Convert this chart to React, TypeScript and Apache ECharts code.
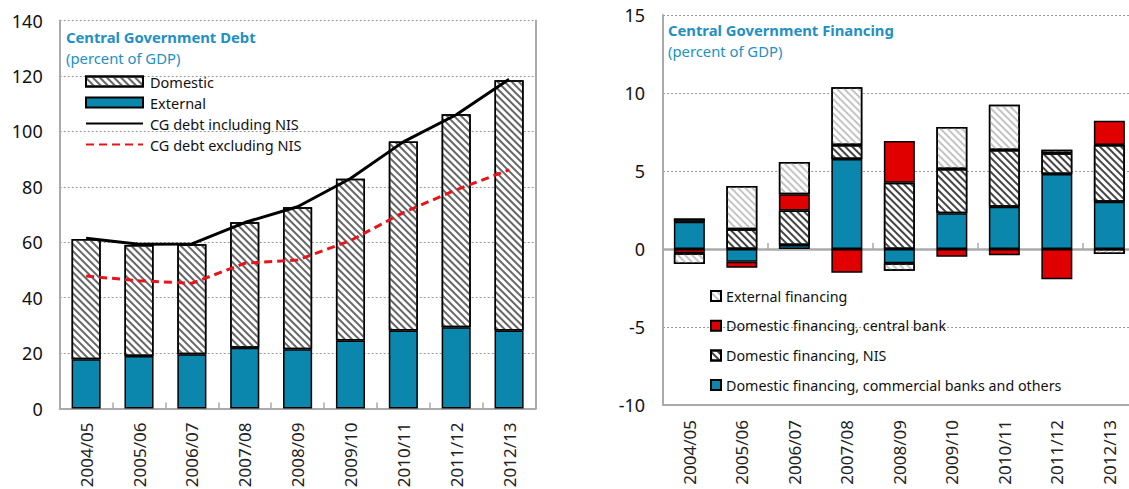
import React, { useEffect, useRef } from "react";
import * as echarts from "echarts";

const categories = ["2004/05", "2005/06", "2006/07", "2007/08", "2008/09", "2009/10", "2010/11", "2011/12", "2012/13"];

// Left chart: Central Government Debt (percent of GDP)
const externalDebt = [17.8, 18.9, 19.6, 21.9, 21.4, 24.5, 28.1, 29.3, 28.1];
const domesticDebt = [43.4, 40.1, 39.7, 45.3, 51.2, 58.4, 68.2, 76.9, 90.3];
const debtInclNIS = [61.4, 59.3, 59.4, 67.1, 72.8, 83.0, 96.2, 106.0, 118.8];
const debtExclNIS = [47.8, 46.1, 45.2, 52.4, 53.6, 60.6, 70.7, 78.9, 86.1];

// Right chart: Central Government Financing (percent of GDP)
const finCommercial = [1.75, -0.81, 0.26, 5.77, -0.92, 2.29, 2.71, 4.81, 3.03];
const finNIS = [0.2, 1.26, 2.2, 0.9, 4.25, 2.84, 3.64, 1.32, 3.64];
const finCentralBank = [-0.28, -0.39, 1.05, -1.52, 2.67, -0.49, -0.4, -1.94, 1.55];
const finExternal = [-0.68, 2.78, 2.07, 3.7, -0.47, 2.69, 2.9, 0.24, -0.32];

const debtAxis = { min: 0, max: 140, interval: 20 };
const finAxis = { min: -10, max: 15, interval: 5 };

const FONT = "'Noto Sans', 'Open Sans', sans-serif";
const BLUE = "#0b87ad";
const RED = "#e00000";
const TITLE = "#2290c4";
const GRAY = "#aaaaaa";

const hatch = (color: string, dash: number[]) => ({
  symbol: "rect",
  symbolSize: 1,
  dashArrayX: [1, 0],
  dashArrayY: dash,
  rotation: Math.PI / 4,
  color,
});

export default function App() {
  const ref = useRef<HTMLDivElement>(null);
  useEffect(() => {
    if (!ref.current) return;
    const chart = echarts.init(ref.current, null, { renderer: "svg" });
    const barBorder = { borderColor: "#000", borderWidth: 1.5 };
    const domesticHatch = hatch("#666666", [1.1, 2.5]);
    const extHatch = hatch("#c4c4c4", [1.3, 2.4]);
    const nisHatch = hatch("#444444", [1.4, 2.3]);
    const yLabel = { fontSize: 18, color: "#111", fontFamily: FONT };
    const xLabel = { fontSize: 17, color: "#222", fontFamily: FONT, rotate: 90, interval: 0 };
    const split = { show: true, lineStyle: { color: "#999", type: [2, 2], width: 1.2 } };
    const titleBold = { fontSize: 14.8, fontWeight: "bold", color: TITLE, fontFamily: FONT, lineHeight: 16 };
    const titleSub = { fontSize: 14.8, fontWeight: "normal", color: TITLE, fontFamily: FONT, lineHeight: 16 };

    chart.setOption({
      animation: false,
      textStyle: { fontFamily: FONT },
      title: [
        { text: "Central Government Debt", left: 66, top: 29, textStyle: titleBold },
        { text: "(percent of GDP)", left: 66, top: 50, textStyle: titleSub },
        { text: "Central Government Financing", left: 668, top: 22, textStyle: titleBold },
        { text: "(percent of GDP)", left: 668, top: 43, textStyle: titleSub },
      ].map((t) => ({ ...t, padding: 0 })),
      legend: [
        {
          orient: "vertical",
          left: 85,
          top: 74,
          itemWidth: 57,
          itemHeight: 10,
          itemGap: 6,
          padding: 0,
          textStyle: { fontSize: 14.5, color: "#111", fontFamily: FONT, lineHeight: 14, padding: [0, 0, 0, 2] },
          data: [
            { name: "Domestic", icon: "rect" },
            { name: "External", icon: "rect" },
            { name: "CG debt including NIS", itemStyle: { opacity: 0 } },
            { name: "CG debt excluding NIS", itemStyle: { opacity: 0 } },
          ],
        },
        {
          orient: "vertical",
          left: 710,
          top: 289,
          itemWidth: 10,
          itemHeight: 10,
          itemGap: 15.7,
          padding: 0,
          textStyle: { fontSize: 14.3, color: "#111", fontFamily: FONT, lineHeight: 14 },
          data: [
            { name: "External financing", icon: "rect" },
            { name: "Domestic financing, central bank", icon: "rect" },
            { name: "Domestic financing, NIS", icon: "rect" },
            { name: "Domestic financing, commercial banks and others", icon: "rect" },
          ],
        },
      ],
      grid: [
        { left: 59.7, top: 20.5, width: 475.8, height: 388, outerBoundsMode: "none" },
        { left: 663.1, top: 15, width: 472.5, height: 390, outerBoundsMode: "none" },
      ],
      xAxis: [
        {
          type: "category",
          gridIndex: 0,
          data: categories,
          axisLine: { show: true, lineStyle: { color: GRAY, width: 2 } },
          axisTick: { show: true, inside: true, length: 6, lineStyle: { color: GRAY, width: 1.5 } },
          axisLabel: { ...xLabel, margin: 14 },
        },
        {
          type: "category",
          gridIndex: 1,
          data: categories,
          axisLine: { show: true, onZero: false, lineStyle: { color: GRAY, width: 2 } },
          axisTick: { show: false },
          axisLabel: { ...xLabel, margin: 15 },
        },
        {
          type: "category",
          gridIndex: 1,
          data: categories,
          position: "bottom",
          axisLine: { show: true, onZero: true, lineStyle: { color: GRAY, width: 2.5 } },
          axisTick: { show: true, inside: true, length: 6, lineStyle: { color: GRAY, width: 1.5 } },
          axisLabel: { show: false },
        },
      ],
      yAxis: [
        {
          type: "value",
          gridIndex: 0,
          ...debtAxis,
          axisLine: { show: true, lineStyle: { color: GRAY, width: 2 } },
          axisTick: { show: false },
          axisLabel: { ...yLabel, margin: 17 },
          splitLine: split,
        },
        {
          type: "value",
          gridIndex: 0,
          position: "right",
          axisLine: { show: true, lineStyle: { color: GRAY, width: 2 } },
          axisTick: { show: false },
          axisLabel: { show: false },
          splitLine: { show: false },
        },
        {
          type: "value",
          gridIndex: 1,
          ...finAxis,
          axisLine: { show: true, lineStyle: { color: GRAY, width: 2 } },
          axisTick: { show: false },
          axisLabel: { ...yLabel, margin: 18 },
          splitLine: split,
        },
      ],
      series: [
        {
          name: "External",
          type: "bar",
          stack: "debt",
          xAxisIndex: 0,
          yAxisIndex: 0,
          barWidth: "55%",
          data: externalDebt,
          itemStyle: { color: BLUE, ...barBorder },
        },
        {
          name: "Domestic",
          type: "bar",
          stack: "debt",
          xAxisIndex: 0,
          yAxisIndex: 0,
          barWidth: "55%",
          data: domesticDebt,
          itemStyle: { color: "#ffffff", decal: domesticHatch, ...barBorder },
        },
        {
          name: "CG debt including NIS",
          type: "line",
          xAxisIndex: 0,
          yAxisIndex: 0,
          data: debtInclNIS,
          symbol: "none",
          z: 5,
          itemStyle: { color: "#000" },
          lineStyle: { color: "#000", width: 3 },
        },
        {
          name: "CG debt excluding NIS",
          type: "line",
          xAxisIndex: 0,
          yAxisIndex: 0,
          data: debtExclNIS,
          symbol: "none",
          z: 5,
          itemStyle: { color: "#e8141c" },
          lineStyle: { color: "#e8141c", width: 3, type: [8, 5] },
        },
        {
          name: "Domestic financing, commercial banks and others",
          type: "bar",
          stack: "fin",
          xAxisIndex: 1,
          yAxisIndex: 2,
          barWidth: "59%",
          data: finCommercial,
          itemStyle: { color: BLUE, ...barBorder },
        },
        {
          name: "Domestic financing, NIS",
          type: "bar",
          stack: "fin",
          xAxisIndex: 1,
          yAxisIndex: 2,
          barWidth: "59%",
          data: finNIS,
          itemStyle: { color: "#ffffff", decal: nisHatch, ...barBorder },
        },
        {
          name: "Domestic financing, central bank",
          type: "bar",
          stack: "fin",
          xAxisIndex: 1,
          yAxisIndex: 2,
          barWidth: "59%",
          data: finCentralBank,
          itemStyle: { color: RED, ...barBorder },
        },
        {
          name: "External financing",
          type: "bar",
          stack: "fin",
          xAxisIndex: 1,
          yAxisIndex: 2,
          barWidth: "59%",
          data: finExternal,
          itemStyle: { color: "#ffffff", decal: extHatch, ...barBorder },
        },
      ],
    });
    return () => chart.dispose();
  }, []);
  return <div ref={ref} style={{ position: "absolute", left: 0, top: 0, width: 1129, height: 489 }} />;
}
